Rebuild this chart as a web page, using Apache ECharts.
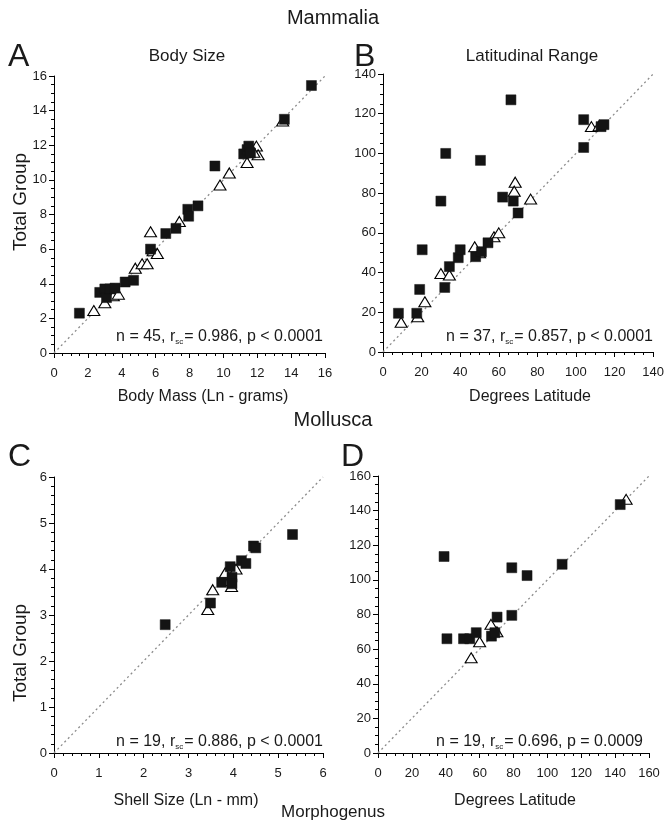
<!DOCTYPE html>
<html>
<head>
<meta charset="utf-8">
<script src="https://cdn.jsdelivr.net/npm/echarts@6/dist/echarts.min.js"></script>
<style>
html,body{margin:0;padding:0;background:#fff;}
#chart{width:667px;height:823px;}
</style>
</head>
<body>
<div id="chart"></div>
<script>
// ---------- DATA ----------
// Panel A: Body Size (Mammalia)
var aSqX = [1.5, 2.7, 3.0, 3.1, 3.3, 3.6, 4.2, 4.7, 5.7, 6.6, 7.2, 7.9, 7.95, 8.5, 9.5, 11.2, 11.4, 11.5, 11.6, 13.6, 15.2];
var aSqY = [2.3, 3.5, 3.7, 3.2, 3.7, 3.75, 4.1, 4.2, 6.0, 6.9, 7.2, 8.3, 7.9, 8.5, 10.8, 11.5, 11.75, 11.95, 11.55, 13.5, 15.45];
var aTrX = [2.35, 3.0, 3.5, 3.8, 4.8, 5.2, 5.5, 5.7, 5.85, 6.1, 7.4, 9.8, 10.35, 11.4, 11.95, 12.05, 11.8, 13.5];
var aTrY = [2.45, 2.9, 3.3, 3.4, 4.9, 5.15, 5.15, 7.0, 5.9, 5.75, 7.6, 9.7, 10.4, 11.0, 11.95, 11.45, 11.6, 13.4];
// Panel B: Latitudinal Range (Mammalia)
var bSqX = [8, 17.5, 19, 20.3, 30, 32.5, 32, 34.4, 39, 40, 48, 50.5, 51, 54.4, 62, 66.3, 67.5, 70, 104, 104, 113, 114.5];
var bSqY = [19.5, 19.5, 31.5, 51.5, 76, 100, 32.5, 43, 47.5, 51.5, 48, 96.5, 50.5, 55, 78, 127, 76, 70, 103, 117, 113.5, 114.5];
var bTrX = [9.4, 18, 21.7, 30, 34.4, 47.5, 50, 57.5, 60, 68.5, 68, 76.5, 108, 112];
var bTrY = [15, 17.8, 25.3, 39.5, 38.8, 53, 50, 58, 60, 85.5, 81, 77, 113.5, 114];
// Panel C: Shell Size (Mollusca)
var cSqX = [2.48, 3.49, 3.74, 3.93, 3.97, 3.97, 4.18, 4.28, 4.45, 4.5, 5.32];
var cSqY = [2.79, 3.26, 3.71, 4.05, 3.82, 3.68, 4.18, 4.12, 4.5, 4.46, 4.75];
var cTrX = [3.43, 3.54, 3.82, 3.96, 4.06, 3.9];
var cTrY = [3.12, 3.55, 3.92, 3.62, 4.0, 3.75];
// Panel D: Latitudinal Range (Mollusca)
var dSqX = [39, 40.7, 50.5, 54.2, 58, 67, 69, 70.3, 79, 79, 88, 108.7, 143];
var dSqY = [113.5, 66, 66, 66, 69.5, 67.5, 69.5, 78.5, 107, 79.5, 102.5, 109, 143.5];
var dTrX = [55, 60, 66.7, 70.2, 146.5];
var dTrY = [55, 64.3, 74.3, 70, 146.5];

// axis ranges / tick intervals
var axMax = [16, 140, 6, 160];
var axInterval = [2, 20, 1, 20];
var axMinorSplit = [4, 4, 5, 4];

// texts
var panelLetters = ['A', 'B', 'C', 'D'];
var panelTitles = ['Body Size', 'Latitudinal Range'];
var xNames = ['Body Mass (Ln - grams)', 'Degrees Latitude', 'Shell Size (Ln - mm)', 'Degrees Latitude'];
var stats = [
  ['n = 45, r', 'sc', '= 0.986, p < 0.0001'],
  ['n = 37, r', 'sc', '= 0.857, p < 0.0001'],
  ['n = 19, r', 'sc', '= 0.886, p < 0.0001'],
  ['n = 19, r', 'sc', '= 0.696, p = 0.0009']
];
var groupTitles = ['Mammalia', 'Mollusca'];
var yName = 'Total Group';
var bottomName = 'Morphogenus';

// ---------- LAYOUT ----------
var FONT = 'Liberation Sans, Arial, Helvetica, sans-serif';
var TXT = '#1a1a1a';
var grids = [
  {left: 54, top: 76, width: 271, height: 277},
  {left: 383, top: 74, width: 273, height: 278},
  {left: 54, top: 477, width: 269, height: 276},
  {left: 378, top: 476, width: 271, height: 277}
];

function zip(xs, ys) { return xs.map(function (x, i) { return [x, ys[i]]; }); }

var sqs = [zip(aSqX, aSqY), zip(bSqX, bSqY), zip(cSqX, cSqY), zip(dSqX, dSqY)];
var trs = [zip(aTrX, aTrY), zip(bTrX, bTrY), zip(cTrX, cTrY), zip(dTrX, dTrY)];

var xAxes = [], yAxes = [], series = [];
function mkAxis(i, isX) {
  return {
    type: 'value', gridIndex: i, min: 0, max: axMax[i], interval: axInterval[i],
    axisLine: {show: true, onZero: false, lineStyle: {color: '#000', width: 1}},
    axisTick: {show: true, length: 5, lineStyle: {color: '#000', width: 1}},
    minorTick: {show: true, splitNumber: axMinorSplit[i], length: 3, lineStyle: {color: '#000', width: 1}},
    splitLine: {show: false},
    minorSplitLine: {show: false},
    axisLabel: {fontFamily: FONT, fontSize: 13, color: TXT, margin: isX ? 14 : 7}
  };
}
for (var i = 0; i < 4; i++) {
  xAxes.push(mkAxis(i, true));
  yAxes.push(mkAxis(i, false));
  series.push({
    type: 'line', xAxisIndex: i, yAxisIndex: i, symbol: 'none', silent: true, z: 1,
    data: [[0, 0], [axMax[i], axMax[i]]],
    lineStyle: {color: '#8c8c8c', width: 1.3, type: [2, 3]}
  });
  series.push({
    type: 'scatter', xAxisIndex: i, yAxisIndex: i, z: 3,
    symbol: 'triangle', symbolSize: [12, 10],
    itemStyle: {color: '#fff', borderColor: '#000', borderWidth: 1.1, opacity: 1},
    data: trs[i]
  });
  series.push({
    type: 'scatter', xAxisIndex: i, yAxisIndex: i, z: 4,
    symbol: 'rect', symbolSize: 10,
    itemStyle: {color: '#141414', borderColor: '#141414', borderWidth: 0.5, opacity: 1},
    data: sqs[i]
  });
}

var graphic = [];
function txt(x, y, text, size, align, vAlign, extra) {
  var g = {type: 'text', x: x, y: y, silent: true,
    style: {text: text, fill: TXT, fontFamily: FONT, fontSize: size, align: align || 'center', verticalAlign: vAlign || 'middle'}};
  if (extra) for (var k in extra) g[k] = extra[k];
  return g;
}
graphic.push(txt(333, 18, groupTitles[0], 20));
graphic.push(txt(333, 420, groupTitles[1], 20));
graphic.push(txt(333, 812, bottomName, 17));
var letterPos = [[8, 57], [354, 57], [8, 457], [341, 457]];
for (var j = 0; j < 4; j++) {
  graphic.push(txt(letterPos[j][0], letterPos[j][1], panelLetters[j], 32, 'left'));
}
graphic.push(txt(187, 56, panelTitles[0], 17));
graphic.push(txt(532, 56, panelTitles[1], 17));
var xNamePos = [[203, 397], [530, 397], [186, 801], [515, 801]];
for (j = 0; j < 4; j++) graphic.push(txt(xNamePos[j][0], xNamePos[j][1], xNames[j], 16));
graphic.push(txt(21, 202, yName, 19, 'center', 'middle', {rotation: Math.PI / 2}));
graphic.push(txt(21, 653, yName, 19, 'center', 'middle', {rotation: Math.PI / 2}));
var statPos = [[323, 337], [653, 337], [323, 742], [643, 742]];
for (j = 0; j < 4; j++) {
  graphic.push({
    type: 'text', x: statPos[j][0], y: statPos[j][1], silent: true,
    style: {
      text: '{a|' + stats[j][0] + '}{s|' + stats[j][1] + '}{a|' + stats[j][2] + '}',
      align: 'right', verticalAlign: 'middle',
      rich: {
        a: {fontFamily: FONT, fontSize: 16, fill: TXT, color: TXT, lineHeight: 18},
        s: {fontFamily: FONT, fontSize: 8, fill: TXT, color: TXT, lineHeight: 18, verticalAlign: 'bottom', padding: [6, 1, 0, 0]}
      }
    }
  });
}

var chart = echarts.init(document.getElementById('chart'), null, {renderer: 'canvas'});
chart.setOption({
  animation: false,
  backgroundColor: '#fff',
  grid: grids,
  xAxis: xAxes,
  yAxis: yAxes,
  series: series,
  graphic: graphic
});
</script>
</body>
</html>
